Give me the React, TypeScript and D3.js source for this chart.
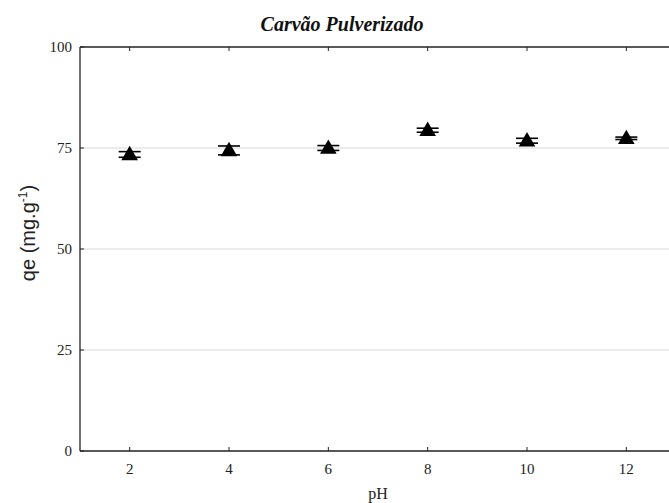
import React, { useEffect, useRef } from 'react';
import * as d3 from 'd3';

// pH series for "Carvão Pulverizado"
const phValues = [2, 4, 6, 8, 10, 12];
const qeMeans = [73.4, 74.4, 75.0, 79.4, 76.8, 77.4];
const qeErrors = [0.7, 1.1, 0.6, 0.5, 0.6, 0.3];
const xTicks = [2, 4, 6, 8, 10, 12];
const yTicks = [0, 25, 50, 75, 100];

const width = 669;
const height = 503;
const margin = { top: 47, right: -7, bottom: 52, left: 80 };

const serif = '"Liberation Serif", "Times New Roman", serif';
const sans = '"Liberation Sans", Arial, sans-serif';

const App = () => {
  const chartRef = useRef(null);

  useEffect(() => {
    const svg = d3.select(chartRef.current);
    svg.selectAll('*').remove();

    const data = phValues.map((ph, i) => ({ ph, qe: qeMeans[i], err: qeErrors[i] }));

    const xScale = d3.scaleLinear()
      .domain([1, 13])
      .range([margin.left, width - margin.right]);

    const yScale = d3.scaleLinear()
      .domain([0, 100])
      .range([height - margin.bottom, margin.top]);

    const x0 = xScale.range()[0];
    const x1 = xScale.range()[1];
    const yBottom = yScale(0);
    const yTop = yScale(100);

    // grid
    svg.append('g')
      .selectAll('line')
      .data(yTicks.filter(t => t > 0 && t < 100))
      .join('line')
      .attr('x1', x0)
      .attr('x2', x1)
      .attr('y1', d => yScale(d))
      .attr('y2', d => yScale(d))
      .attr('stroke', '#d9d9d9')
      .attr('stroke-width', 1);

    // frame
    const frame = svg.append('g').attr('stroke', '#222').attr('stroke-width', 1.3).attr('fill', 'none');
    frame.append('line').attr('x1', x0).attr('x2', x1).attr('y1', yTop).attr('y2', yTop);
    frame.append('line').attr('x1', x0).attr('x2', x1).attr('y1', yBottom).attr('y2', yBottom);
    frame.append('line').attr('x1', x0).attr('x2', x0).attr('y1', yTop).attr('y2', yBottom);

    // inward ticks
    const ticks = svg.append('g').attr('stroke', '#222').attr('stroke-width', 1);
    ticks.selectAll('.xb').data(xTicks).join('line')
      .attr('class', 'xb')
      .attr('x1', d => xScale(d)).attr('x2', d => xScale(d))
      .attr('y1', yBottom).attr('y2', yBottom - 4);
    ticks.selectAll('.xt').data(xTicks).join('line')
      .attr('class', 'xt')
      .attr('x1', d => xScale(d)).attr('x2', d => xScale(d))
      .attr('y1', yTop).attr('y2', yTop + 4);
    ticks.selectAll('.yl').data(yTicks).join('line')
      .attr('class', 'yl')
      .attr('x1', x0).attr('x2', x0 + 4)
      .attr('y1', d => yScale(d)).attr('y2', d => yScale(d));

    // tick labels
    svg.append('g')
      .selectAll('text')
      .data(xTicks)
      .join('text')
      .attr('x', d => xScale(d))
      .attr('y', yBottom + 23)
      .attr('text-anchor', 'middle')
      .attr('font-family', serif)
      .attr('font-size', 15)
      .attr('fill', '#222')
      .text(d => d);

    svg.append('g')
      .selectAll('text')
      .data(yTicks)
      .join('text')
      .attr('x', x0 - 8)
      .attr('y', d => yScale(d) + 5)
      .attr('text-anchor', 'end')
      .attr('font-family', serif)
      .attr('font-size', 15)
      .attr('fill', '#222')
      .text(d => d);

    // error bars
    const capW = 11;
    const bars = svg.append('g').attr('stroke', '#000').attr('stroke-width', 1.6);
    data.forEach(d => {
      const cx = xScale(d.ph);
      [d.qe + d.err, d.qe - d.err].forEach(v => {
        bars.append('line')
          .attr('x1', cx - capW).attr('x2', cx + capW)
          .attr('y1', yScale(v)).attr('y2', yScale(v));
      });
      bars.append('line')
        .attr('x1', cx).attr('x2', cx)
        .attr('y1', yScale(d.qe + d.err)).attr('y2', yScale(d.qe - d.err));
    });

    // triangle markers
    const tri = d3.symbol().type(d3.symbolTriangle).size(120);
    svg.append('g')
      .selectAll('path')
      .data(data)
      .join('path')
      .attr('d', tri)
      .attr('transform', d => `translate(${xScale(d.ph)}, ${yScale(d.qe) + 1})`)
      .attr('fill', '#000');

    // title and axis titles
    svg.append('text')
      .attr('x', 342)
      .attr('y', 31)
      .attr('text-anchor', 'middle')
      .attr('font-family', serif)
      .attr('font-weight', 'bold')
      .attr('font-style', 'italic')
      .attr('font-size', 20)
      .attr('fill', '#111')
      .text('Carvão Pulverizado');

    svg.append('text')
      .attr('x', (x0 + x1) / 2)
      .attr('y', 499)
      .attr('text-anchor', 'middle')
      .attr('font-family', serif)
      .attr('font-size', 16)
      .attr('fill', '#222')
      .text('pH');

    const yLabel = svg.append('text')
      .attr('transform', 'translate(35, 233) rotate(-90)')
      .attr('text-anchor', 'middle')
      .attr('font-family', sans)
      .attr('font-size', 20)
      .attr('fill', '#222');
    yLabel.append('tspan').text('qe (mg.g');
    yLabel.append('tspan').attr('dy', -8).attr('font-size', 12).text('-1');
    yLabel.append('tspan').attr('dy', 8).text(')');
  });

  return (
    <div style={{ position: 'absolute', left: 0, top: 0 }}>
      <svg
        viewBox={`0 0 ${width} ${height}`}
        width={width}
        height={height}
        ref={chartRef}
        style={{ display: 'block', background: '#fff' }}
      />
    </div>
  );
};

export default App;
